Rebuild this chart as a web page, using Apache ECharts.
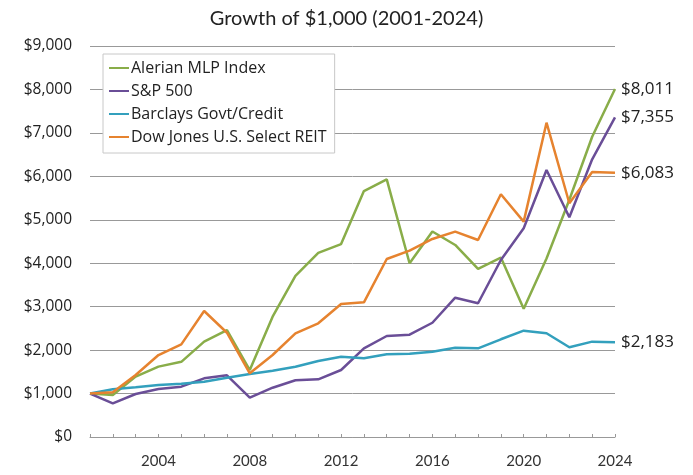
<!DOCTYPE html>
<html>
<head>
<meta charset="utf-8">
<script src="https://cdn.jsdelivr.net/npm/echarts@6/dist/echarts.min.js"></script>
<style>
  html, body { margin: 0; padding: 0; background: #fff; }
  #chart { width: 693px; height: 475px; }
</style>
</head>
<body>
<div id="chart"></div>
<script>
// years on the x axis
const years = ['2001','2002','2003','2004','2005','2006','2007','2008','2009','2010','2011','2012',
  '2013','2014','2015','2016','2017','2018','2019','2020','2021','2022','2023','2024']

// growth of $1,000
const mlp = [1000, 967, 1390, 1620, 1730, 2195, 2460, 1540, 2770, 3710, 4240, 4440,
  5660, 5930, 4000, 4730, 4420, 3870, 4130, 2950, 4110, 5460, 6910, 8011]
const sp500 = [1000, 776, 990, 1105, 1158, 1350, 1420, 905, 1135, 1305, 1328, 1542,
  2042, 2325, 2355, 2630, 3207, 3078, 4075, 4804, 6146, 5057, 6392, 7355]
const barclays = [1000, 1097, 1143, 1197, 1228, 1274, 1366, 1450, 1527, 1619, 1750, 1849,
  1811, 1903, 1918, 1964, 2056, 2041, 2249, 2447, 2387, 2065, 2195, 2183]
const reit = [1000, 1030, 1427, 1887, 2133, 2900, 2400, 1466, 1887, 2387, 2617, 3060,
  3100, 4097, 4290, 4558, 4727, 4535, 5587, 4957, 7235, 5380, 6100, 6083]

const names = ['Alerian MLP Index', 'S&P 500', 'Barclays Govt/Credit', 'Dow Jones U.S. Select REIT']
const colors = ['#89AD49', '#6A4E97', '#33A0BD', '#E6832F']

const fmt = v => '$' + Math.round(v).toLocaleString('en-US')

const chart = echarts.init(document.getElementById('chart'))

const mkSeries = (name, data, color) => ({
  name: name,
  type: 'line',
  data: data,
  symbol: 'none',
  color: color,
  lineStyle: { width: 2.5, color: color },
  endLabel: {
    show: true,
    distance: 6,
    color: '#222',
    fontFamily: 'Open Sans',
    fontSize: 17,
    formatter: p => fmt(p.value)
  }
})

const option = {
  animation: false,
  title: {
    text: 'Growth of $1,000 (2001-2024)',
    left: 'center',
    top: 4,
    textStyle: { fontFamily: 'Lato', fontWeight: 'normal', fontSize: 20, color: '#222' }
  },
  grid: { left: 90, right: 78, top: 46, bottom: 38, containLabel: false },
  legend: {
    orient: 'vertical',
    left: 103,
    top: 54,
    padding: [6, 8, 8, 6],
    itemGap: 7,
    itemWidth: 20,
    itemHeight: 18,
    icon: 'path://M0,9 L20,9 L20,11 L0,11 Z',
    backgroundColor: '#fff',
    borderColor: '#c8c8c8',
    borderWidth: 1,
    textStyle: { fontFamily: 'Open Sans', fontSize: 16, color: '#222', padding: [0, 0, 0, -3] },
    data: names
  },
  xAxis: {
    type: 'category',
    data: years,
    boundaryGap: false,
    axisLine: { lineStyle: { color: '#999', width: 1 } },
    axisTick: { inside: true, length: 3, interval: 0, lineStyle: { color: '#999' } },
    axisLabel: {
      interval: (i, v) => Number(v) % 4 === 0,
      margin: 17,
      fontFamily: 'Lato',
      fontSize: 15,
      color: '#333'
    },
    splitLine: { show: false }
  },
  yAxis: {
    type: 'value',
    min: 0,
    max: 9000,
    interval: 1000,
    axisLine: { show: false },
    axisTick: { show: false },
    axisLabel: {
      margin: 18,
      fontFamily: 'Open Sans',
      fontSize: 15.5,
      color: '#222',
      formatter: v => fmt(v)
    },
    splitLine: { lineStyle: { color: '#999', width: 1 } }
  },
  series: [
    mkSeries(names[0], mlp, colors[0]),
    mkSeries(names[1], sp500, colors[1]),
    mkSeries(names[2], barclays, colors[2]),
    mkSeries(names[3], reit, colors[3])
  ]
}

chart.setOption(option)
</script>
</body>
</html>
